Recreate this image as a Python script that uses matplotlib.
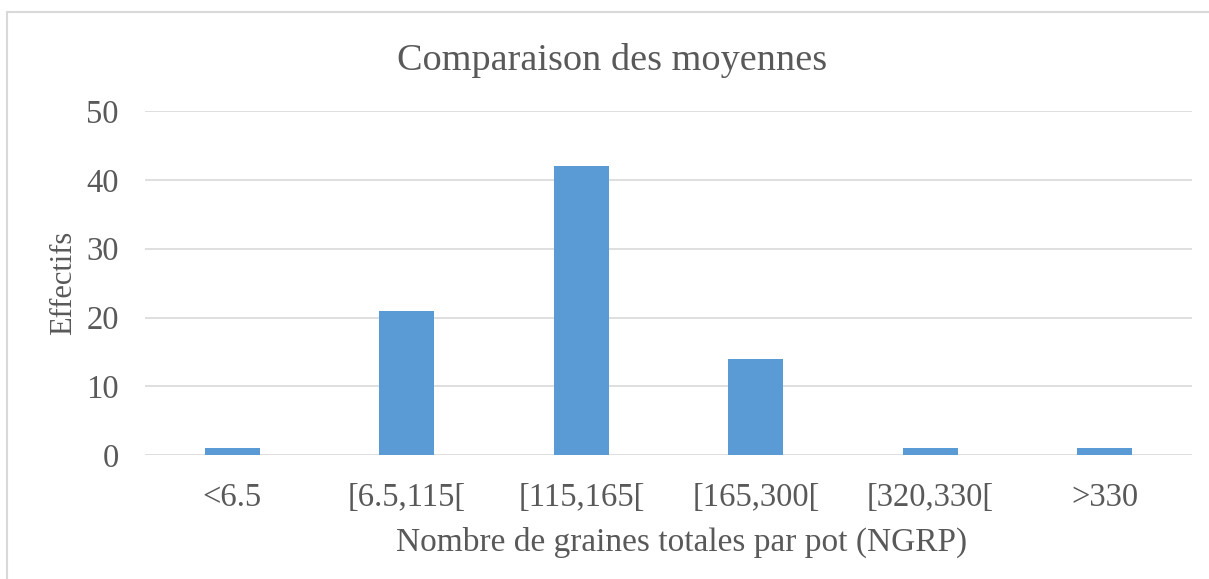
import matplotlib.pyplot as plt
from matplotlib.patches import Rectangle

categories = ["<6.5", "[6.5,115[", "[115,165[", "[165,300[", "[320,330[", ">330"]
effectifs = [1, 21, 42, 14, 1, 1]
yticks = [0, 10, 20, 30, 40, 50]

plt.rcParams['font.family'] = ['Liberation Serif', 'DejaVu Serif']
grey = "#595959"

fig = plt.figure(figsize=(12.09, 5.79), dpi=100)
ax = fig.add_axes([0.12, 0.214, 0.866, 0.594])

x = range(len(categories))
ax.bar(x, effectifs, width=0.315, color="#5B9BD5", zorder=3)

ax.set_xlim(-0.5, len(categories) - 0.5)
ax.set_ylim(0, 50)
ax.set_yticks(yticks)
ax.set_xticks(list(x))
ax.set_xticklabels(categories)
ax.tick_params(axis='both', length=0, labelsize=23.5, colors=grey)
ax.tick_params(axis='y', pad=19)
ax.tick_params(axis='x', pad=20)
ax.grid(axis='y', color="#D9D9D9", linewidth=1.2, zorder=0)
for s in ax.spines.values():
    s.set_visible(False)

ax.set_ylabel("Effectifs", fontsize=22, color=grey, labelpad=6)
ax.set_xlabel("Nombre de graines totales par pot (NGRP)", fontsize=24, color=grey, labelpad=10)
ax.xaxis.label.set_x(0.512)
fig.text(0.506, 0.895, "Comparaison des moyennes", fontsize=27.5, color=grey, ha='center', va='center')

fig.patches.append(Rectangle((7 / 1209, -0.1), 1.2, 1 - 12 / 579 + 0.1,
                             transform=fig.transFigure, fill=False,
                             edgecolor="#D9D9D9", linewidth=1.5))

fig.savefig("out.png", dpi=100)
